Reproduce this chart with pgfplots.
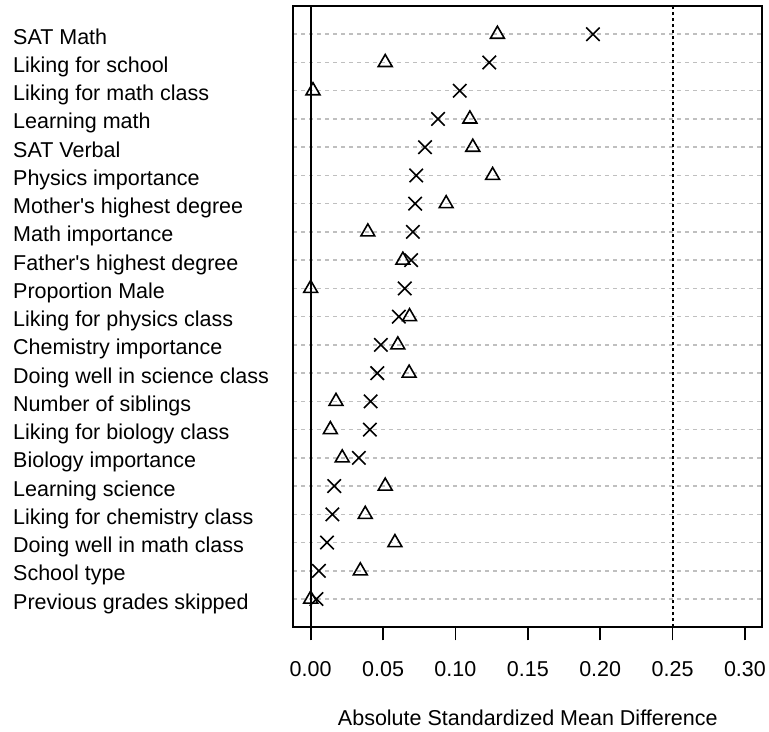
\documentclass[border=0pt]{standalone}
\usepackage{pgfplots}
\pgfplotsset{compat=1.18}
\usepackage{pgfplotstable}
\usepackage{fontspec}
\setmainfont{Liberation Sans}[Ligatures=TeXOff]

% y = row position (1 = bottom), tri = first sample, cross = second sample
\pgfplotstableread{
y   tri     cross
21  0.129   0.195
20  0.0515  0.1234
19  0.0016  0.103
18  0.110   0.088
17  0.112   0.079
16  0.1257  0.0729
15  0.0936  0.0722
14  0.0395  0.0706
13  0.0637  0.0694
12  0.0     0.065
11  0.0683  0.0609
10  0.0602  0.0485
9   0.068   0.046
8   0.0175  0.0414
7   0.0136  0.0409
6   0.0218  0.0333
5   0.0515  0.0163
4   0.0377  0.015
3   0.0582  0.0113
2   0.0343  0.0057
1   0.0     0.004
}\smd

\begin{document}
\begin{tikzpicture}
\fontsize{21.5bp}{25bp}\selectfont
% page: axis box plus room for labels
\useasboundingbox (-293.3bp,-104.7bp) rectangle (475.7bp,627.3bp);
\begin{axis}[
  at={(0,0)}, anchor=south west,
  scale only axis,
  width=469bp, height=621.3bp,
  xmin=-0.012, xmax=0.312,
  ymin=0, ymax=22,
  axis line style={line width=2bp},
  xtick={0,0.05,...,0.30},
  xtick pos=bottom,
  tick align=outside,
  major tick length=13bp,
  xtick style={line width=1.8bp, black},
  ytick={1,...,21},
  ytick style={draw=none},
  yticklabels={Previous grades skipped,School type,Doing well in math class,Liking for chemistry class,Learning science,Biology importance,Liking for biology class,Number of siblings,Doing well in science class,Chemistry importance,Liking for physics class,Proportion Male,Father's highest degree,Math importance,Mother's highest degree,Physics importance,SAT Verbal,Learning math,Liking for math class,Liking for school,SAT Math},
  ymajorgrids,
  grid style={draw=black!25, line width=1.5bp, dash pattern=on 4bp off 4bp},
  /pgf/number format/assume math mode=true,
  /pgf/number format/fixed,
  /pgf/number format/fixed zerofill,
  /pgf/number format/precision=2,
  xticklabel style={font=\fontsize{21.5bp}{25bp}\selectfont, anchor=base, inner sep=0pt, yshift=-36bp},
  yticklabel style={font=\fontsize{21.5bp}{25bp}\selectfont, anchor=base west, inner sep=0pt, xshift=-267.3bp, yshift=-10bp},
  xlabel={Absolute Standardized Mean Difference},
  xlabel style={font=\fontsize{21.5bp}{25bp}\selectfont, at={(axis description cs:0.5,0)}, anchor=base, inner sep=0pt, yshift=-97.7bp},
  clip=false,
]
% reference lines
\addplot[black, line width=2bp] coordinates {(0,0) (0,22)};
\addplot[black, line width=2bp, dash pattern=on 3bp off 3bp] coordinates {(0.25,0) (0.25,22)};
% points
\addplot[only marks, mark=triangle, mark size=8bp, mark options={line width=1.6bp, black}] table[x=tri, y=y] {\smd};
\addplot[only marks, mark=x, mark size=9.5bp, mark options={line width=1.6bp, black}] table[x=cross, y=y] {\smd};
\end{axis}
\end{tikzpicture}
\end{document}
